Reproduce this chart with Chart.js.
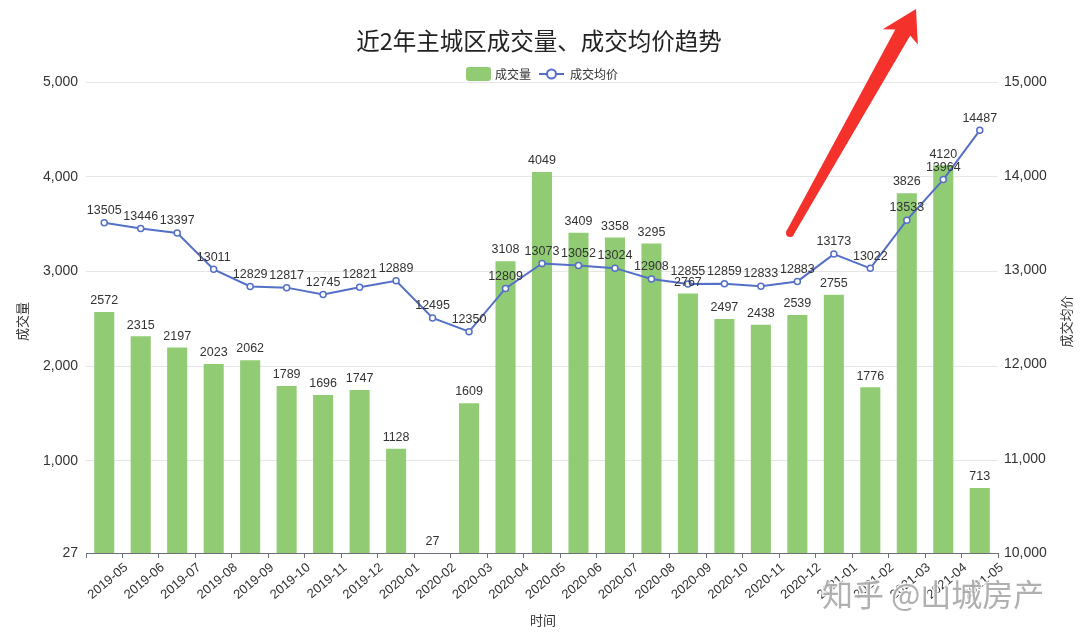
<!DOCTYPE html>
<html>
<head>
<meta charset="utf-8">
<script src="https://cdn.jsdelivr.net/npm/chart.js@4.4.1/dist/chart.umd.min.js"></script>
<style>
html,body{margin:0;padding:0;background:#fff;}
#wrap{width:1080px;height:635px;position:relative;}
</style>
</head>
<body>
<div id="wrap"><canvas id="c" width="1080" height="635"></canvas></div>
<script>
const months = ['2019-05','2019-06','2019-07','2019-08','2019-09','2019-10','2019-11','2019-12','2020-01','2020-02','2020-03','2020-04','2020-05','2020-06','2020-07','2020-08','2020-09','2020-10','2020-11','2020-12','2021-01','2021-02','2021-03','2021-04','2021-05'];
const volume = [2572,2315,2197,2023,2062,1789,1696,1747,1128,27,1609,3108,4049,3409,3358,3295,2767,2497,2438,2539,2755,1776,3826,4120,713];
const avgPrice = [13505,13446,13397,13011,12829,12817,12745,12821,12889,12495,12350,12809,13073,13052,13024,12908,12855,12859,12833,12883,13173,13022,13533,13964,14487];
const leftTicks = [27,1000,2000,3000,4000,5000];
const rightTicks = [10000,11000,12000,13000,14000,15000];

const FONT = '"Helvetica Neue", "Liberation Sans", Arial, "Noto Sans CJK SC", sans-serif';
const CJK = '"Noto Sans CJK SC", sans-serif';
const GREEN = '#91cc75';
const BLUE = '#5470c6';

const decor = {
  id: 'decor',
  afterDatasetsDraw(chart) {
    const ctx = chart.ctx;
    ctx.save();
    ctx.fillStyle = '#333';
    ctx.font = '12.5px ' + FONT;
    ctx.textAlign = 'center';
    ctx.textBaseline = 'bottom';
    chart.getDatasetMeta(0).data.forEach((el, i) => {
      ctx.fillText(String(volume[i]), el.x, el.y - 5);
    });
    chart.getDatasetMeta(1).data.forEach((el, i) => {
      ctx.fillText(String(avgPrice[i]), el.x, el.y - 6);
    });
    ctx.restore();
  },
  afterDraw(chart) {
    const ctx = chart.ctx;
    const ca = chart.chartArea;
    ctx.save();
    // title
    ctx.fillStyle = '#222';
    ctx.font = '400 23.5px ' + CJK;
    ctx.textAlign = 'center';
    ctx.textBaseline = 'middle';
    ctx.fillText('近2年主城区成交量、成交均价趋势', 539, 41);
    // legend
    ctx.fillStyle = GREEN;
    ctx.beginPath();
    ctx.roundRect(466, 67, 25, 14, 3);
    ctx.fill();
    ctx.fillStyle = '#333';
    ctx.font = '12px ' + CJK;
    ctx.textAlign = 'left';
    ctx.fillText('成交量', 495, 74);
    ctx.strokeStyle = BLUE;
    ctx.lineWidth = 2;
    ctx.beginPath(); ctx.moveTo(539, 74); ctx.lineTo(564, 74); ctx.stroke();
    ctx.beginPath(); ctx.arc(551.5, 74, 4.5, 0, Math.PI * 2);
    ctx.fillStyle = '#fff'; ctx.fill(); ctx.stroke();
    ctx.fillStyle = '#333';
    ctx.fillText('成交均价', 570, 74);
    // axis titles
    ctx.font = '13px ' + CJK;
    ctx.textAlign = 'center';
    ctx.save();
    ctx.translate(22, (ca.top + ca.bottom) / 2 + 4);
    ctx.rotate(-Math.PI / 2);
    ctx.fillText('成交量', 0, 0);
    ctx.restore();
    ctx.save();
    ctx.translate(1066, (ca.top + ca.bottom) / 2 + 4);
    ctx.rotate(-Math.PI / 2);
    ctx.fillText('成交均价', 0, 0);
    ctx.restore();
    ctx.fillText('时间', 543, 620);
    // red arrow annotation
    const tx = 790, ty = 233, hx = 916, hy = 9;
    const dx = hx - tx, dy = hy - ty, L = Math.hypot(dx, dy);
    const ux = dx / L, uy = dy / L, nx = -uy, ny = ux;
    const P = (a, w) => [tx + ux * a + nx * w, ty + uy * a + ny * w];
    const base = L - 32;
    const pts = [P(0, -4), P(base + 4, -8), P(base - 2, -19), P(L, 0), P(base + 2, 19), P(base + 6, 8), P(0, 4)];
    ctx.fillStyle = '#f4312a';
    ctx.beginPath();
    ctx.moveTo(pts[0][0], pts[0][1]);
    for (let i = 1; i < pts.length; i++) ctx.lineTo(pts[i][0], pts[i][1]);
    ctx.closePath();
    ctx.fill();
    ctx.beginPath(); ctx.arc(tx, ty, 4, 0, Math.PI * 2); ctx.fill();
    // watermark
    ctx.font = '31px ' + CJK;
    ctx.textAlign = 'left';
    ctx.textBaseline = 'alphabetic';
    ctx.lineWidth = 3;
    ctx.strokeStyle = 'rgba(255,255,255,0.8)';
    ctx.strokeText('知乎 @山城房产', 822, 606);
    ctx.fillStyle = 'rgba(150,150,150,0.75)';
    ctx.fillText('知乎 @山城房产', 822, 606);
    ctx.restore();
  }
};

new Chart(document.getElementById('c'), {
  data: {
    labels: months,
    datasets: [
      {
        type: 'bar', label: '成交量', data: volume, yAxisID: 'y',
        backgroundColor: GREEN, barPercentage: 0.55, categoryPercentage: 1, order: 2
      },
      {
        type: 'line', label: '成交均价', data: avgPrice, yAxisID: 'y1',
        borderColor: BLUE, borderWidth: 2, pointRadius: 3, pointBorderWidth: 1.5,
        pointBackgroundColor: '#fff', pointBorderColor: BLUE, tension: 0, order: 1
      }
    ]
  },
  options: {
    responsive: false,
    animation: false,
    layout: { padding: { top: 82, left: 0, right: 0, bottom: 0 } },
    plugins: { legend: { display: false }, tooltip: { enabled: false }, title: { display: false } },
    scales: {
      x: {
        grid: { offset: true, drawOnChartArea: false, drawTicks: true, tickLength: 5, tickColor: '#6e7079' },
        border: { color: '#6e7079', width: 1 },
        ticks: { color: '#333', font: { size: 13, family: FONT }, maxRotation: 40, minRotation: 40, autoSkip: false, labelOffset: 22, padding: 2 },
        afterFit(s) { s.height = 82; }
      },
      y: {
        position: 'left', min: 27, max: 5000,
        afterBuildTicks(s) { s.ticks = leftTicks.map(v => ({ value: v })); },
        grid: { color: '#e6e6e6', drawTicks: false },
        border: { display: false },
        ticks: { color: '#333', font: { size: 14, family: FONT }, padding: 8,
          callback: v => v.toLocaleString('en-US') },
        afterFit(s) { s.width = 86; }
      },
      y1: {
        position: 'right', min: 10000, max: 15000,
        afterBuildTicks(s) { s.ticks = rightTicks.map(v => ({ value: v })); },
        grid: { drawOnChartArea: false, drawTicks: false },
        border: { display: false },
        ticks: { color: '#333', font: { size: 14, family: FONT }, padding: 6,
          callback: v => v.toLocaleString('en-US') },
        afterFit(s) { s.width = 82; }
      }
    }
  },
  plugins: [decor]
});
</script>
</body>
</html>
